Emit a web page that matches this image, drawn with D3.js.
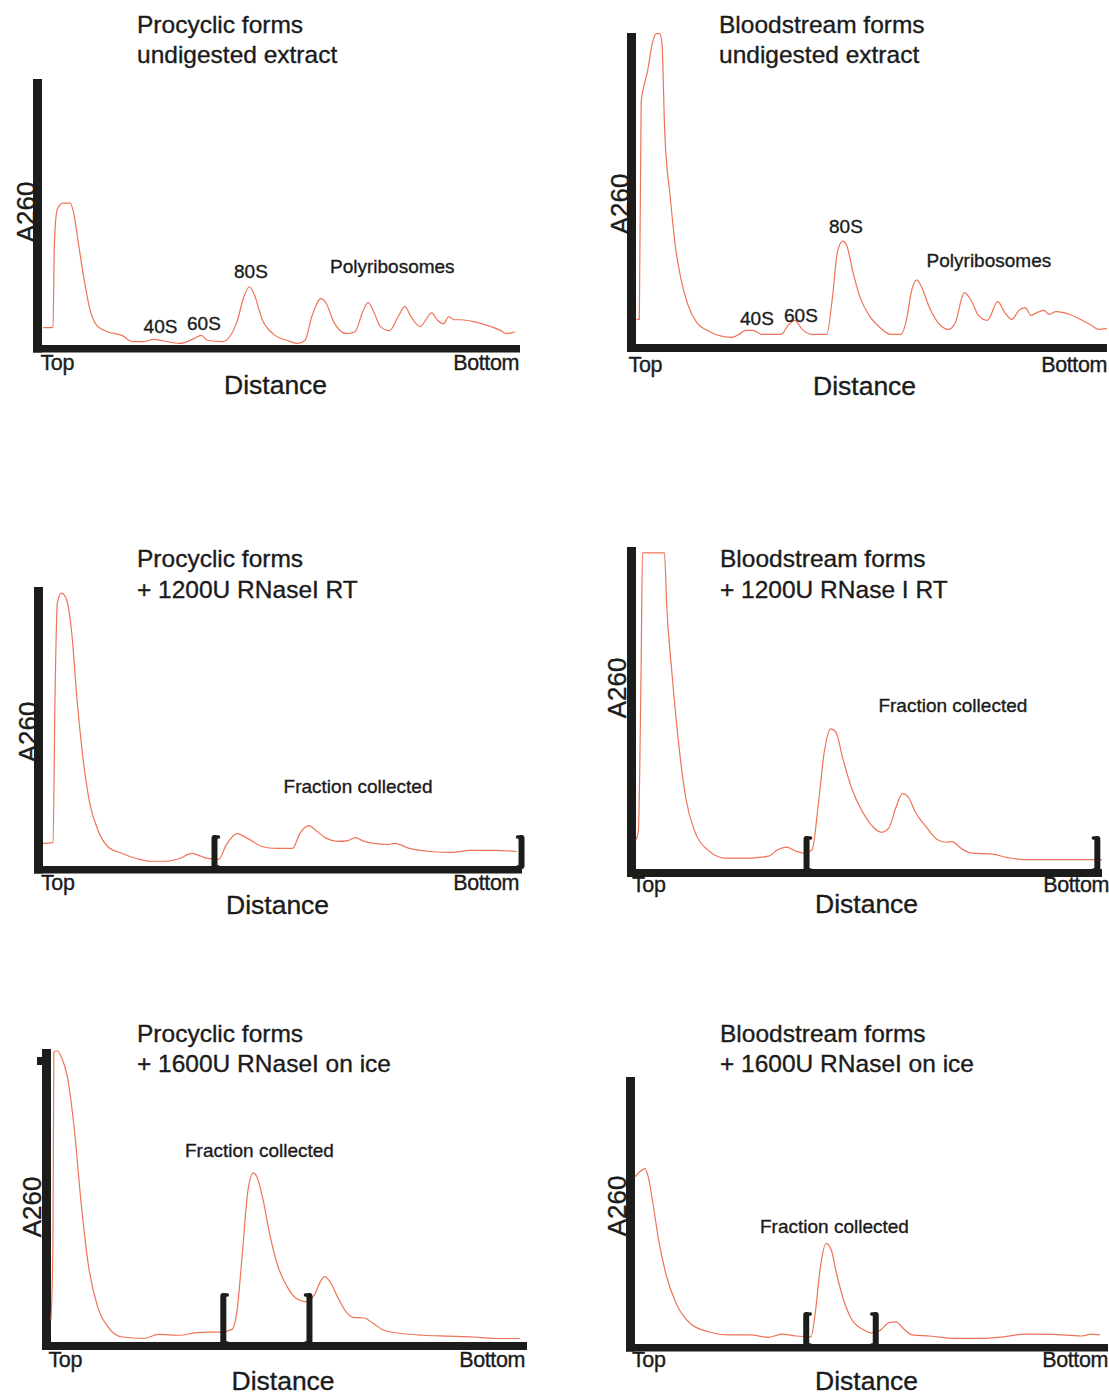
<!DOCTYPE html>
<html>
<head>
<meta charset="utf-8">
<script src="https://cdn.jsdelivr.net/npm/d3@7"></script>
<style>
  html, body { margin: 0; padding: 0; background: #ffffff; }
  svg { display: block; }
  text { font-family: "Liberation Sans", Arial, Helvetica, sans-serif; fill: #1b1b1b; stroke: #1b1b1b; stroke-width: 0.35px; }
</style>
</head>
<body>
<svg id="chart" width="1109" height="1396"></svg>
<script>
// Sucrose-gradient A260 profiles.
// Each point: [distance from the top of the gradient (% of tube length), A260 (% of axis height)]
const procyclicUndigested = [[0.2,6.5],[2.3,6.5],[2.6,38.7],[3.2,51.0],[4.4,53.3],[5.9,53.3],[6.6,49.9],[7.7,37.2],[8.9,23.7],[10.0,13.6],[11.5,7.3],[13.7,5.0],[16.7,3.6],[19.0,1.3],[21.3,1.3],[23.4,2.1],[25.0,1.7],[28.8,0.6],[31.8,2.4],[33.3,3.6],[34.7,1.7],[37.8,1.3],[39.3,3.2],[40.8,8.8],[42.3,18.5],[43.4,21.9],[44.5,18.5],[46.0,9.9],[48.3,4.3],[51.3,1.7],[53.6,0.6],[55.0,1.7],[56.5,11.0],[58.4,17.4],[59.5,15.5],[61.0,8.8],[63.7,4.3],[65.5,5.0],[67.1,12.5],[68.2,15.9],[69.3,12.9],[70.8,6.9],[72.7,5.4],[74.6,11.0],[75.9,14.4],[77.2,10.7],[79.1,6.9],[80.2,9.2],[81.5,12.1],[82.8,9.2],[84.0,8.0],[85.1,10.7],[86.2,9.5],[87.7,9.5],[90.3,8.8],[93.3,7.3],[96.0,5.4],[97.1,4.3],[99.0,5.0]];

const bloodstreamUndigested = [[0.1,7.9],[0.7,7.9],[1.1,77.8],[1.6,82.5],[2.4,87.3],[3.5,96.9],[4.3,99.8],[5.0,99.8],[5.5,96.9],[6.1,68.2],[7.3,46.8],[8.4,30.9],[9.5,21.3],[11.0,12.7],[12.9,6.9],[15.1,4.4],[17.4,2.8],[20.3,2.1],[21.9,3.1],[23.3,4.4],[24.8,4.4],[26.7,3.1],[30.8,3.1],[32.3,6.0],[33.7,7.6],[35.3,4.7],[37.2,3.1],[40.5,3.1],[41.7,14.9],[42.8,29.9],[43.9,33.1],[44.7,31.8],[46.2,22.2],[47.6,14.9],[49.5,9.2],[51.8,5.3],[54.0,3.1],[56.3,3.1],[57.4,7.6],[58.5,17.1],[59.6,20.6],[60.7,18.1],[62.3,11.7],[64.1,6.9],[66.4,4.7],[67.8,6.9],[69.7,16.5],[71.2,13.9],[72.7,9.2],[74.6,7.6],[76.8,13.6],[78.3,10.1],[79.8,7.9],[81.3,10.8],[82.6,11.7],[83.9,9.2],[85.1,10.1],[86.6,10.8],[87.7,9.5],[89.2,10.4],[92.1,9.5],[94.4,7.9],[96.7,6.0],[98.1,4.7],[100,5.0]];

const procyclicRT = [[0,8.1],[2.1,8.4],[2.5,59.7],[3.0,94.2],[3.8,97.8],[4.5,97.0],[5.3,92.8],[6.0,83.5],[7.1,59.7],[8.3,39.4],[9.7,23.0],[11.6,12.3],[13.5,7.0],[16.5,4.5],[19.5,2.7],[22.5,1.7],[25.5,1.7],[28.5,2.7],[31.1,4.5],[33.0,3.5],[34.4,2.7],[36.7,2.4],[38.2,7.4],[40.5,11.6],[42.7,9.9],[45.7,7.0],[48.7,6.3],[52.1,6.3],[53.6,11.6],[55.5,14.5],[57.0,12.7],[59.2,9.9],[61.5,8.8],[63.7,9.1],[65.2,10.2],[66.7,9.1],[69.0,8.1],[72.0,7.7],[73.4,8.1],[76.5,6.3],[80.9,5.2],[85.4,4.9],[89.2,5.6],[94.4,5.6],[98.9,5.2]];

const bloodstreamRT = [[0,9.0],[0.5,11.7],[1.1,63.0],[1.4,98.2],[6.1,98.2],[6.6,81.5],[7.7,61.1],[9.2,38.3],[10.7,21.9],[12.6,11.7],[15.3,6.0],[19.1,3.4],[24.4,3.4],[28.5,4.0],[30.4,6.0],[32.3,6.8],[34.2,5.6],[36.1,4.9],[37.8,6.0],[39.1,19.8],[40.4,36.3],[41.8,43.5],[42.9,42.5],[44.4,34.2],[46.3,25.0],[48.6,17.8],[50.8,13.2],[52.7,11.4],[54.2,12.6],[55.7,18.8],[57.2,23.4],[58.4,22.4],[59.9,17.8],[62.2,13.2],[64.8,9.0],[66.7,8.3],[67.8,8.5],[69.7,6.5],[72.0,4.9],[76.5,4.6],[79.6,3.6],[83.4,2.9],[89.4,2.9],[95.5,2.9],[100,2.9]];

const procyclicIce = [[0,7.4],[0.4,32.6],[0.6,98.9],[1.3,99.4],[2.2,97.2],[3.4,90.8],[4.9,72.6],[6.4,46.3],[7.9,25.7],[9.8,12.0],[12.0,5.1],[15.0,1.7],[19.5,1.2],[22.5,2.6],[27.1,2.3],[30.1,3.1],[33.1,3.4],[35.7,3.4],[38.0,4.3],[39.1,10.9],[40.2,30.3],[41.4,52.0],[42.5,57.7],[43.2,56.6],[44.4,49.7],[45.9,37.2],[47.7,25.7],[49.6,18.9],[51.5,14.9],[53.4,13.7],[55.3,16.0],[56.4,20.0],[57.5,22.3],[58.6,20.6],[60.2,15.4],[62.0,10.3],[63.5,8.4],[65.8,8.2],[67.7,6.3],[69.9,4.0],[73.7,2.9],[78.2,2.3],[83.5,2.0],[88.7,1.7],[93.2,1.2],[98.5,1.2]];

const bloodstreamIce = [[0,62.6],[1.0,64.5],[2.1,65.7],[2.8,62.6],[3.9,51.4],[5.0,38.9],[6.5,26.4],[8.7,15.2],[11.7,7.7],[15.5,4.6],[19.9,3.4],[24.4,3.4],[28.1,2.5],[31.1,3.7],[34.0,3.0],[37.2,2.7],[38.1,11.5],[39.2,28.9],[40.4,37.7],[41.5,35.2],[42.6,26.4],[44.1,16.5],[45.9,9.0],[48.2,5.5],[50.0,4.2],[51.9,5.2],[53.7,8.0],[55.2,8.3],[56.7,5.9],[58.6,3.4],[62.3,3.0],[67.5,2.1],[73.4,2.1],[77.9,2.7],[82.4,3.7],[88.3,3.6],[94.3,3.0],[96.5,3.7],[98.3,3.4]];

// Collected fraction: [start, end] distance (% of tube length)
const procyclicRTFraction = [35.8, 99.9];
const bloodstreamRTFraction = [36.6, 99.0];
const procyclicIceFraction = [36.2, 54.3];
const bloodstreamIceFraction = [36.2, 50.9];

// Text
const panelTitles = [
  ["Procyclic forms", "undigested extract"],
  ["Bloodstream forms", "undigested extract"],
  ["Procyclic forms", "+ 1200U RNaseI RT"],
  ["Bloodstream forms", "+ 1200U RNase I RT"],
  ["Procyclic forms", "+ 1600U RNaseI on ice"],
  ["Bloodstream forms", "+ 1600U RNaseI on ice"]
];
const sedimentationLabels = ["40S", "60S", "80S", "Polyribosomes"];
const fractionLabel = ["Fraction collected"];
const xEndLabels = ["Top", "Bottom"];
const xTitle = "Distance";
const yTitle = "A260";

const profiles = [procyclicUndigested, bloodstreamUndigested, procyclicRT, bloodstreamRT, procyclicIce, bloodstreamIce];
const fractions = [null, null, procyclicRTFraction, bloodstreamRTFraction, procyclicIceFraction, bloodstreamIceFraction];
const annotations = [sedimentationLabels, sedimentationLabels, fractionLabel, fractionLabel, fractionLabel, fractionLabel];

// Panel geometry (pixels): y-axis bar left edge / width, top of y-axis, x-axis bar top / height, right end
const layout = [
  { ax: 33, axW: 9, yTop: 79, base: 345, axH: 7.5, xEnd: 520,
    title: [137, 33, 63], yLab: [35, 212], top: [40.5, 370], bottom: [519, 370], dist: [224, 394],
    labels: [[143.6, 333], [187, 330], [234, 278], [330, 273]] },
  { ax: 627, axW: 9, yTop: 33, base: 344, axH: 8, xEnd: 1107,
    title: [719, 33, 63], yLab: [629, 204], top: [628.6, 372], bottom: [1107, 372], dist: [813, 395],
    labels: [[740, 325], [784, 322], [829, 233], [926.6, 267]] },
  { ax: 34, axW: 9, yTop: 587, base: 866, axH: 7.5, xEnd: 522,
    title: [137, 567, 598], yLab: [37, 732], top: [41, 890], bottom: [519, 890], dist: [226, 914],
    labels: [[283.6, 793]], bracketH: 29 },
  { ax: 627, axW: 9, yTop: 547, base: 869, axH: 8, xEnd: 1102,
    title: [720, 567, 598], yLab: [626, 688], top: [632, 891.7], bottom: [1109, 891.7], dist: [815, 913],
    labels: [[878.4, 711.7]], bracketH: 31 },
  { ax: 42, axW: 9, yTop: 1049, base: 1342, axH: 8, xEnd: 527, nub: true,
    title: [137, 1041.7, 1071.7], yLab: [41, 1207], top: [48.5, 1366.7], bottom: [525, 1366.7], dist: [231.5, 1390],
    labels: [[185, 1156.7]], bracketH: 47 },
  { ax: 626, axW: 9, yTop: 1077, base: 1344, axH: 7.5, xEnd: 1108,
    title: [720, 1041.7, 1071.7], yLab: [626, 1206], top: [632, 1366.7], bottom: [1108, 1366.7], dist: [815, 1390],
    labels: [[760, 1233.3]], bracketH: 30 }
];

const svg = d3.select("#chart");
const ink = "#1c1c1a";
const traceColor = "#ef7457";

const line = d3.line().curve(d3.curveMonotoneX);

profiles.forEach((profile, i) => {
  const L = layout[i];
  const g = svg.append("g").attr("class", "panel");

  const x = d3.scaleLinear().domain([0, 100]).range([L.ax + L.axW, L.xEnd]);
  const y = d3.scaleLinear().domain([0, 100]).range([L.base, L.yTop]);

  // thick L-shaped axes
  g.append("rect")
    .attr("x", L.ax).attr("y", L.yTop)
    .attr("width", L.axW).attr("height", y.range()[0] + L.axH - L.yTop)
    .attr("fill", ink);
  g.append("rect")
    .attr("x", L.ax).attr("y", y.range()[0])
    .attr("width", x.range()[1] - L.ax).attr("height", L.axH)
    .attr("fill", ink);
  if (L.nub) {
    g.append("rect")
      .attr("x", L.ax - 5).attr("y", L.yTop + 8)
      .attr("width", 5).attr("height", 8)
      .attr("fill", ink);
  }

  // absorbance trace
  g.append("path")
    .datum(profile)
    .attr("d", line.x(d => x(d[0])).y(d => y(d[1])))
    .attr("fill", "none")
    .attr("stroke", traceColor)
    .attr("stroke-width", 1.2)
    .attr("stroke-linejoin", "round");

  // brackets marking the collected fraction
  const fr = fractions[i];
  if (fr) {
    const yb = y(0) + 1;
    const yt = y(0) - L.bracketH;
    const arm = 4;
    const xs = x(fr[0]), xe = x(fr[1]);
    [[xs, 1], [xe, -1]].forEach(([bx, dir]) => {
      g.append("path")
        .attr("d", `M${bx},${yt + 1} V${yb - 1}`)
        .attr("fill", "none").attr("stroke", ink)
        .attr("stroke-width", 6).attr("stroke-linecap", "round");
      g.append("path")
        .attr("d", `M${bx + dir * arm},${yt} H${bx} M${bx},${yb} H${bx + dir * arm}`)
        .attr("fill", "none").attr("stroke", ink)
        .attr("stroke-width", 3.5).attr("stroke-linecap", "round");
    });
  }

  // panel title (two lines)
  panelTitles[i].forEach((t, k) => {
    g.append("text")
      .attr("x", L.title[0]).attr("y", L.title[1 + k])
      .attr("font-size", 24.5)
      .text(t);
  });

  // y-axis title
  g.append("text")
    .attr("transform", `translate(${L.yLab[0]},${L.yLab[1]}) rotate(-90)`)
    .attr("text-anchor", "middle")
    .attr("font-size", 26)
    .text(yTitle);

  // gradient ends and x-axis title
  g.append("text")
    .attr("x", L.top[0]).attr("y", L.top[1])
    .attr("font-size", 21.5).attr("letter-spacing", -0.4)
    .text(xEndLabels[0]);
  g.append("text")
    .attr("x", L.bottom[0]).attr("y", L.bottom[1])
    .attr("text-anchor", "end")
    .attr("font-size", 21.5).attr("letter-spacing", -0.4)
    .text(xEndLabels[1]);
  g.append("text")
    .attr("x", L.dist[0]).attr("y", L.dist[1])
    .attr("font-size", 26.5)
    .text(xTitle);

  // peak / fraction annotations
  annotations[i].forEach((t, k) => {
    g.append("text")
      .attr("x", L.labels[k][0]).attr("y", L.labels[k][1])
      .attr("font-size", 19)
      .text(t);
  });
});
</script>
</body>
</html>
